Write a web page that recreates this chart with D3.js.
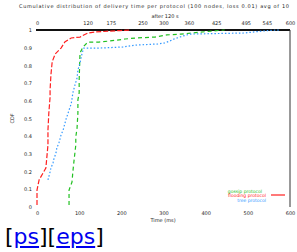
<!DOCTYPE html>
<html>
<head>
<meta charset="utf-8">
<script src="https://cdn.jsdelivr.net/npm/d3@7"></script>
<style>
  body { margin: 0; background: #fff; font-family: "DejaVu Sans", sans-serif; }
  svg { position: absolute; left: 0; top: 0; }
  #links { position: absolute; left: 5px; top: 224px; font-size: 22px; color: #000; }
  #links a { color: #00e; }
</style>
</head>
<body>
<svg></svg>
<div id="links">[<a href="#">ps</a>][<a href="#">eps</a>]</div>
<script>
// values (x in ms, y as cumulative fraction)
let redData = [[0,0.011],[0,0.096],[5,0.153],[21,0.22],[26,0.35],[26,0.435],[28,0.53],[31,0.62],[31,0.66],
  [33,0.746],[36,0.82],[43,0.864],[57,0.898],[66,0.932],[81,0.955],[102,0.96],[111,0.972],[121,0.983],
  [137,0.989],[197,0.997],[220,1]];
let greenData = [[76,0.011],[76,0.096],[83,0.141],[85,0.198],[88,0.266],[92,0.35],[92,0.395],[95,0.446],
  [97,0.531],[97,0.605],[100,0.644],[100,0.718],[102,0.87],[109,0.904],[121,0.932],[147,0.932],[173,0.938],
  [209,0.949],[235,0.955],[280,0.96],[308,0.972],[341,0.977],[367,0.983],[415,0.994],[445,1]];
let blueData = [[26,0.153],[31,0.198],[33,0.22],[38,0.249],[40,0.271],[45,0.305],[47,0.333],[52,0.362],
  [57,0.407],[62,0.435],[69,0.497],[73,0.525],[76,0.548],[81,0.582],[83,0.61],[85,0.644],[90,0.689],
  [95,0.729],[97,0.774],[102,0.814],[107,0.87],[111,0.898],[149,0.898],[204,0.904],[235,0.915],[287,0.921],
  [303,0.927],[315,0.938],[325,0.949],[346,0.966],[363,0.977],[491,0.983],[547,0.997],[576,1]];

let seriesNames = ['flooding', 'gossip', 'tree'];
let xTicks = [0, 100, 200, 300, 400, 500, 600];
let yTicks = [0, 0.1, 0.2, 0.3, 0.4, 0.5, 0.6, 0.7, 0.8, 0.9, 1];
let topTicks = [0, 120, 175, 250, 300, 360, 425, 495, 545, 600];

let width = 297, height = 252;
let svg = d3.select('svg').attr('width', width).attr('height', height);

let x = d3.scaleLinear().domain([0, 600]).range([37, 290]);
let y = d3.scaleLinear().domain([0, 1]).range([207, 30]);

let small = '5px';

// title
svg.append('text')
  .attr('x', 154).attr('y', 8)
  .attr('text-anchor', 'middle')
  .attr('font-size', small).attr('fill', '#222')
  .attr('textLength', 270)
  .text('Cumulative distribution of delivery time per protocol (100 nodes, loss 0.01)    avg of 10');
svg.append('text')
  .attr('x', 165).attr('y', 18)
  .attr('text-anchor', 'middle')
  .attr('font-size', small).attr('fill', '#222')
  .text('after 120 s');

// axes
let bottomAxis = svg.append('g')
  .attr('transform', `translate(0,${y(0)})`)
  .call(d3.axisBottom(x).tickValues(xTicks).tickSize(0).tickPadding(4));
let leftAxis = svg.append('g')
  .attr('transform', `translate(${x(0) - 5},0)`)
  .call(d3.axisLeft(y).tickValues(yTicks).tickSize(0).tickPadding(0).tickFormat(d3.format('~g')));
let topAxis = svg.append('g')
  .attr('transform', `translate(0,${y(1) - 5})`)
  .call(d3.axisTop(x).tickValues(topTicks).tickSize(0).tickPadding(0));

[bottomAxis, leftAxis, topAxis].forEach(g => {
  g.select('.domain').remove();
  g.selectAll('text').attr('font-size', small).attr('fill', '#222')
    .attr('font-family', '"DejaVu Sans", sans-serif');
});

// border: thick top, thin right
svg.append('line')
  .attr('x1', x(0) - 1).attr('x2', x(600))
  .attr('y1', y(1)).attr('y2', y(1))
  .attr('stroke', '#111').attr('stroke-width', 2);
svg.append('line')
  .attr('x1', x(600)).attr('x2', x(600))
  .attr('y1', y(1)).attr('y2', y(0))
  .attr('stroke', '#333').attr('stroke-width', 1);

// axis labels
svg.append('text')
  .attr('x', 163).attr('y', 222)
  .attr('text-anchor', 'middle')
  .attr('font-size', small).attr('fill', '#222')
  .text('Time (ms)');
svg.append('text')
  .attr('transform', `translate(14,${y(0.5)}) rotate(-90)`)
  .attr('text-anchor', 'middle')
  .attr('font-size', small).attr('fill', '#222')
  .text('CDF');

// curves
let line = d3.line().x(d => x(d[0])).y(d => y(d[1]));
let styles = [
  {data: redData, color: '#ff2020', dash: '5,2'},
  {data: greenData, color: '#22c022', dash: '4,3'},
  {data: blueData, color: '#3399ff', dash: '1.5,2'}
];

svg.append('g')
  .selectAll('path')
  .data(styles)
  .enter()
  .append('path')
  .attr('d', d => line(d.data))
  .attr('fill', 'none')
  .attr('stroke', d => d.color)
  .attr('stroke-width', 1.2)
  .attr('stroke-dasharray', d => d.dash);

// legend
let legend = svg.append('g');
let legendRows = [
  {name: seriesNames[1], color: styles[1].color, ly: 191, tx: 262},
  {name: seriesNames[0], color: styles[0].color, ly: 195, tx: 266},
  {name: seriesNames[2], color: styles[2].color, ly: 200, tx: 266}
];
legend.selectAll('text')
  .data(legendRows)
  .enter()
  .append('text')
  .attr('x', d => d.tx).attr('y', d => d.ly + 1.5)
  .attr('text-anchor', 'end')
  .attr('font-size', '4.5px')
  .attr('fill', d => d.color)
  .text(d => d.name + ' protocol');
legend.append('line')
  .attr('x1', 271).attr('x2', 285)
  .attr('y1', 195).attr('y2', 195)
  .attr('stroke', styles[0].color).attr('stroke-width', 1.2);
</script>
</body>
</html>
